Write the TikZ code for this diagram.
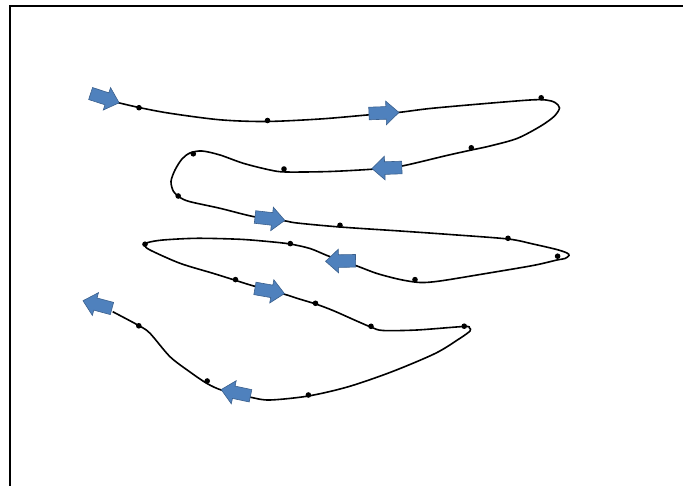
\documentclass[tikz,border=0pt]{standalone}
\usetikzlibrary{shapes.arrows}
\definecolor{arrowfill}{HTML}{4F81BD}
\definecolor{arrowline}{HTML}{3A5F8C}
\tikzset{
  blk/.style={single arrow, draw=arrowline, fill=arrowfill, line width=0.6pt,
    minimum height=30pt, inner xsep=0pt, inner ysep=6pt, single arrow head extend=5.5pt,
    single arrow tip angle=85},
  dot/.style={circle, fill=black, inner sep=0pt, minimum size=5.6pt},
  curve/.style={line width=1.6pt, black},
  frame/.style={line width=2pt, black}
}
\begin{document}
\begin{tikzpicture}[x=1pt,y=-1pt]
\useasboundingbox (0,0) rectangle (683,486);
\draw[frame] (10,486) -- (10,6) -- (683,6);
% the curve
\draw[curve] plot[smooth, tension=0.5] coordinates {
(117.5,102.5) (139,107.5) (170,113.3) (220,119.8) (266,121.5) (320,119)
(367,115) (398,112.5) (430,108.5) (480,104) (530,100) (546,100)
(555,102.5) (559.5,108) (554,116.5) (540,126.5) (517,138.5) (490,146) (471.5,150)
(446.7,155.5) (402,166) (375,169) (330,171.5) (286,172) (270,170)
(243.3,163.3) (220,155) (202,151) (190,153) (182,159) (175,170)
(171,181.5) (173.5,191.5) (180,197.5) (190,201.7) (220,208.3) (254,216.7)
(283,220.5) (297,223) (340,227) (400,231) (450,234.5) (508,239)
(533,244) (556.7,249.5) (567,253) (569,255.5) (565,258.5) (557,260)
(533,265.5) (483,274) (440,281) (420,282.5) (400,279.5) (377,273.5)
(357,266) (342,261) (327,255.5) (310,248.5) (290,244) (270,241.7)
(240,239.3) (197,238.3) (163,240) (148,242.5) (145,245.5) (150,250)
(180,263.3) (213,273.3) (236,280.5) (253,285.8) (283,293.8) (297,298.3)
(315.7,304) (333,310.5) (356.7,321) (372,327.5) (383,330.5) (417,330)
(464,326.5) (469.5,328) (470,331) (460,338.3) (435.5,353.3) (392,371.7)
(348.4,386.7) (308.4,396) (270,400) (251.7,397.5) (222.7,390.5)
(207,383.5) (190,372) (170,356.7) (150,333.3) (139,325.7)
(112.7,311.7)};
% dots
\node[dot] (d1) at (139,107.7) {};
\node[dot] (d2) at (267.5,120.5) {};
\node[dot] (d3) at (541.2,97.8) {};
\node[dot] (d4) at (471.3,147.8) {};
\node[dot] (d5) at (284,169) {};
\node[dot] (d6) at (193.3,153.8) {};
\node[dot] (d7) at (178.2,196) {};
\node[dot] (d8) at (340,225.3) {};
\node[dot] (d9) at (508,238.3) {};
\node[dot] (d10) at (557.6,256.2) {};
\node[dot] (d11) at (415,279.6) {};
\node[dot] (d12) at (290.3,243.6) {};
\node[dot] (d13) at (145,244.2) {};
\node[dot] (d14) at (235.5,279.6) {};
\node[dot] (d15) at (315.5,303.3) {};
\node[dot] (d16) at (371,326.3) {};
\node[dot] (d17) at (464.2,326.2) {};
\node[dot] (d18) at (308.4,395) {};
\node[dot] (d19) at (207.2,381) {};
\node[dot] (d20) at (138.8,325.8) {};
% arrows
\node[blk, rotate=-18] (A1) at (101.6,97.1) {};
\node[blk, rotate=2] (A2) at (380.5,113.1) {};
\node[blk, rotate=182] (A3) at (390.3,167.9) {};
\node[blk, rotate=-6.5] (A4) at (266.5,218.3) {};
\node[blk, rotate=181] (A5) at (344,261) {};
\node[blk, rotate=-10] (A7) at (266.3,290.4) {};
\node[blk, rotate=168] (A8) at (239.2,393.4) {};
\node[blk, rotate=165] (A9) at (100.8,305.5) {};
\end{tikzpicture}
\end{document}
